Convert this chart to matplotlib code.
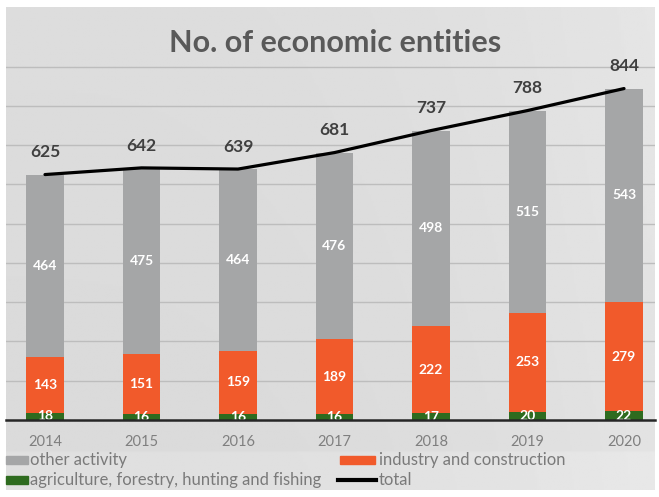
import matplotlib.pyplot as plt
import numpy as np
from matplotlib.lines import Line2D
from matplotlib.patches import Rectangle

plt.rcParams["font.family"] = ["Lato", "DejaVu Sans"]

years = ["2014", "2015", "2016", "2017", "2018", "2019", "2020"]
agriculture = [18, 16, 16, 16, 17, 20, 22]
industry = [143, 151, 159, 189, 222, 253, 279]
other = [464, 475, 464, 476, 498, 515, 543]
total = [625, 642, 639, 681, 737, 788, 844]

GRAY = "#a5a6a7"
ORANGE = "#f15a2b"
GREEN = "#2e6b1f"

W, H = 659, 497


def fx(x):
    return x / W


def fy(y):
    return 1 - y / H


fig = plt.figure(figsize=(W / 100, H / 100), dpi=100)
fig.patch.set_facecolor("white")

# panel background with a soft light falloff to the right
bg = fig.add_axes([fx(6), fy(490), fx(649), 483 / H], zorder=0)
gx = np.linspace(0, 1, 300)[None, :]
gy = np.linspace(0, 1, 200)[:, None]
shade = 0.855 + 0.035 * gx ** 3 + 0.01 * (1 - gy)
shade = shade + np.where(gy > 0.92, 0.02, 0.0)
bg.imshow(np.clip(shade, 0, 1), cmap="gray", vmin=0, vmax=1, aspect="auto",
          extent=(0, 1, 0, 1), origin="upper")
bg.set_axis_off()

ax = fig.add_axes([fx(6), fy(420), fx(649), 377 / H], zorder=1)
ax.set_facecolor("none")

x = np.arange(len(years))
width = 0.39
bottom_ind = np.array(agriculture)
bottom_oth = bottom_ind + np.array(industry)

b_agr = ax.bar(x, agriculture, width, color=GREEN, zorder=2)
b_ind = ax.bar(x, industry, width, bottom=bottom_ind, color=ORANGE, zorder=2)
b_oth = ax.bar(x, other, width, bottom=bottom_oth, color=GRAY, zorder=2)

for bars in (b_agr, b_ind, b_oth):
    ax.bar_label(bars, label_type="center", color="white", fontsize=10,
                 fontweight="bold", zorder=3)

ax.plot(x, total, color="black", lw=2.3, zorder=4, solid_capstyle="round")
for xi, t in zip(x, total):
    ax.annotate(str(t), (xi, t), xytext=(0, 16), textcoords="offset points",
                ha="center", va="center", fontsize=12.5, fontweight="bold",
                color="#404040")

ax.axhline(0, color="#262626", lw=1.8, zorder=5, clip_on=False)

ax.set_xlim(-0.404, 6.321)
ax.set_ylim(0, 960)
ax.set_yticks(np.arange(100, 1000, 100))
ax.yaxis.grid(True, color="#bdbdbd", lw=1)
ax.set_axisbelow(True)
ax.tick_params(axis="y", left=False, labelleft=False)
ax.set_xticks(x)
ax.set_xticklabels(years)
ax.tick_params(axis="x", length=0, pad=11, labelsize=10.5, labelcolor="#7f7f7f")
for s in ax.spines.values():
    s.set_visible(False)

fig.text(fx(335), fy(52), "No. of economic entities", ha="center",
         va="baseline", fontsize=22, fontweight="bold", color="#595959")

# legend entries laid out in two columns under the axis
legend_rows = [
    (fx(-8), fy(460), "patch", GRAY, fx(30), "other activity"),
    (fx(340), fy(460), "patch", ORANGE, fx(379), "industry and construction"),
    (fx(-8), fy(480), "patch", GREEN, fx(30),
     "agriculture, forestry, hunting and fishing"),
    (fx(338), fy(480), "line", "black", fx(379), "total"),
]
for x0, yc, kind, col, tx, label in legend_rows:
    if kind == "patch":
        fig.add_artist(Rectangle((max(x0, fx(6)), yc - 4 / H),
                                 fx(28) - max(x0, fx(6)) if x0 < 0 else fx(35),
                                 8 / H, transform=fig.transFigure,
                                 color=col, zorder=3))
    else:
        fig.add_artist(Line2D([x0, x0 + fx(38)], [yc, yc],
                              transform=fig.transFigure, color=col, lw=3,
                              zorder=3))
    fig.text(tx, yc, label, ha="left", va="center", fontsize=12,
             color="#7a7a7a")

fig.savefig("out.png", dpi=100)
